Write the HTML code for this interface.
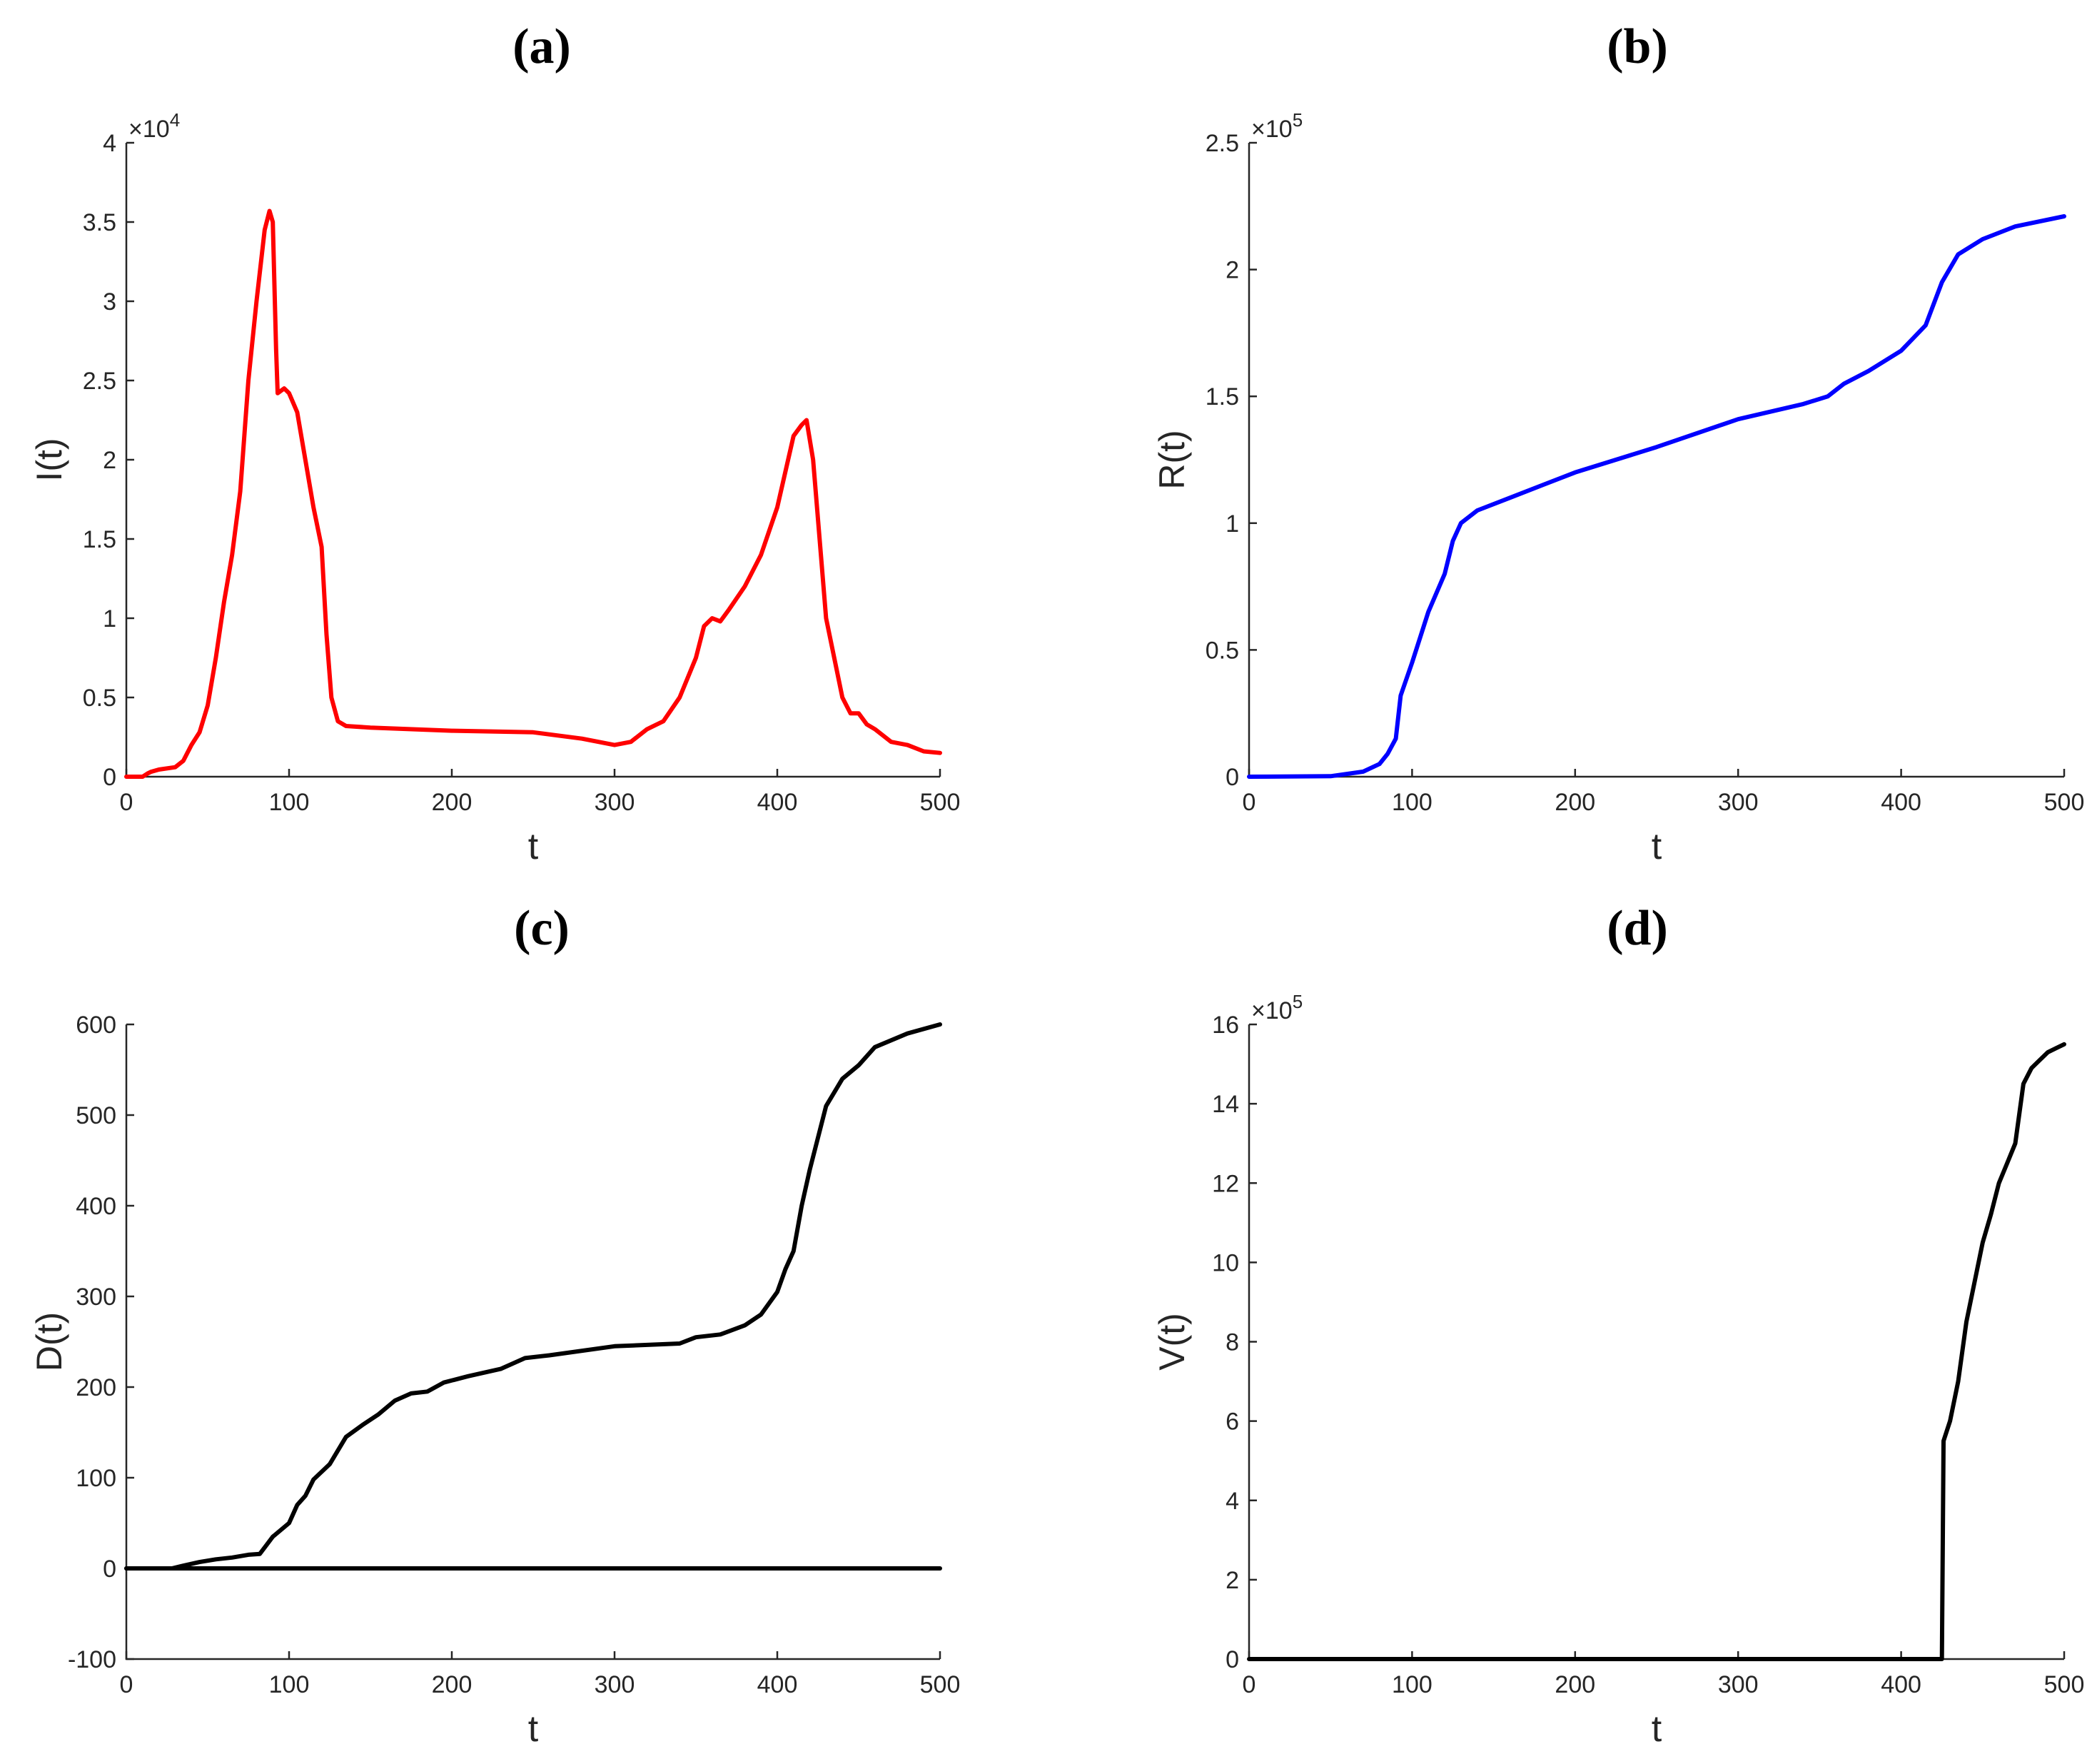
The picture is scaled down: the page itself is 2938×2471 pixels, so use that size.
<!DOCTYPE html>
<html><head><meta charset="utf-8"><style>
html,body{margin:0;padding:0;background:#fff;}
svg{display:block;font-family:"Liberation Sans",sans-serif;}
</style></head><body>
<svg id="fig" width="2938" height="2471" viewBox="0 0 2938 2471" xmlns="http://www.w3.org/2000/svg"></svg>
<script>
// Panel (a) I(t), units of 1e4
const iT=[0,10,13,15,20,30,35,40,45,50,55,60,65,70,75,80,85,88,90,92,93,97,100,105,110,115,120,123,126,130,135,150,200,250,280,300,310,320,330,340,350,355,360,365,370,380,390,400,410,415,418,422,430,440,445,450,455,460,470,480,490,500];
const iV=[0,0,0.02,0.03,0.045,0.06,0.1,0.2,0.28,0.45,0.75,1.1,1.4,1.8,2.5,3.0,3.45,3.57,3.5,2.7,2.42,2.45,2.42,2.3,2.0,1.7,1.45,0.9,0.5,0.35,0.32,0.31,0.29,0.28,0.24,0.2,0.22,0.3,0.35,0.5,0.75,0.95,1.0,0.98,1.05,1.2,1.4,1.7,2.15,2.22,2.25,2.0,1.0,0.5,0.4,0.4,0.33,0.3,0.22,0.2,0.16,0.15];
// Panel (b) R(t), units of 1e5
const rT=[0,50,70,80,85,90,93,100,110,120,125,130,140,160,180,200,250,300,340,355,365,380,400,415,425,435,450,470,500];
const rV=[0,0.002,0.02,0.05,0.09,0.15,0.32,0.45,0.65,0.8,0.93,1.0,1.05,1.1,1.15,1.2,1.3,1.41,1.47,1.5,1.55,1.6,1.68,1.78,1.95,2.06,2.12,2.17,2.21];
// Panel (c) D(t)
const dT=[0,28,35,45,55,65,75,82,90,100,105,110,115,125,135,145,155,165,175,185,195,210,230,245,260,300,340,350,365,380,390,400,405,410,415,420,430,440,450,460,480,500];
const dV=[0,0,3,7,10,12,15,16,35,50,70,80,98,115,145,158,170,185,193,195,205,212,220,232,235,245,248,255,258,268,280,305,330,350,400,440,510,540,555,575,590,600];
const dZeroT=[0,500];
const dZeroV=[0,0];
// Panel (d) V(t), units of 1e5
const vT=[0,425,426,430,435,440,445,450,455,460,465,470,475,480,485,490,495,500];
const vV=[0,0,5.5,6,7,8.5,9.5,10.5,11.2,12,12.5,13,14.5,14.9,15.1,15.3,15.4,15.5];

const xTicks=[0,100,200,300,400,500];
const aTicks=[0,0.5,1,1.5,2,2.5,3,3.5,4], aLabels=["0","0.5","1","1.5","2","2.5","3","3.5","4"];
const bTicks=[0,0.5,1,1.5,2,2.5], bLabels=["0","0.5","1","1.5","2","2.5"];
const cTicks=[-100,0,100,200,300,400,500,600], cLabels=["-100","0","100","200","300","400","500","600"];
const dTicks=[0,2,4,6,8,10,12,14,16], dLabels=["0","2","4","6","8","10","12","14","16"];

const NS="http://www.w3.org/2000/svg";
const svg=document.getElementById('fig');
function mk(tag,attrs,parent){const e=document.createElementNS(NS,tag);for(const k in attrs)e.setAttribute(k,attrs[k]);(parent||svg).appendChild(e);return e;}

function panel(p){
  const g=mk('g',{});
  
  
  const sx=v=>p.x0+(v-0)/(500-0)*(p.x1-p.x0);
  const sy=v=>p.y1-(v-p.ymin)/(p.ymax-p.ymin)*(p.y1-p.y0);
  const ax=mk('path',{d:`M${p.x0},${p.y0} L${p.x0},${p.y1} L${p.x1},${p.y1}`,fill:'none',stroke:'#262626','stroke-width':2.5},g);
  
  
  xTicks.forEach(t=>{
    mk('line',{x1:sx(t),x2:sx(t),y1:p.y1,y2:p.y1-11,stroke:'#262626','stroke-width':2.5},g);
    const tx=mk('text',{x:sx(t),y:p.y1+47,'font-size':34,fill:'#262626','text-anchor':'middle'},g);
    tx.textContent=t;
    
    
  });
  p.ticks.forEach((t,i)=>{
    mk('line',{x1:p.x0,x2:p.x0+11,y1:sy(t),y2:sy(t),stroke:'#262626','stroke-width':2.5},g);
    const tx=mk('text',{x:p.x0-14,y:sy(t)+12,'font-size':34,fill:'#262626','text-anchor':'end'},g);
    tx.textContent=p.labels[i];
    
    
  });
  if(p.exp){
    const tx=mk('text',{x:p.x0+3,y:p.y0-8,'font-size':34,fill:'#262626'},g);
    tx.innerHTML='×10<tspan dy="-15" font-size="26">'+p.exp+'</tspan>';
    
    
  }
  const xl=mk('text',{x:(p.x0+p.x1)/2,y:p.y1+115,'font-size':52,fill:'#262626','text-anchor':'middle'},g);
  xl.textContent='t';
  
  
  const cy=(p.y0+p.y1)/2;
  const yl=mk('text',{x:p.x0-108,y:cy,'font-size':50,fill:'#262626','text-anchor':'middle',transform:`rotate(-90 ${p.x0-108} ${cy})`},g);
  yl.setAttribute('dy','17');
  yl.textContent=p.ylab;
  
  
  const tt=mk('text',{x:p.tx,y:p.y0-112,'font-size':70,'font-weight':'bold','font-family':'"Liberation Serif",serif','text-anchor':'middle',fill:'#000'},g);
  tt.textContent=p.title;
  
  
  p.series.forEach(s=>{
    const d=s.t.map((t,i)=>(i?'L':'M')+sx(t).toFixed(1)+','+sy(s.v[i]).toFixed(1)).join(' ');
    const pl=mk('path',{d:d,fill:'none',stroke:s.c,'stroke-width':6,'stroke-linejoin':'round','stroke-linecap':'round'},g);
    
    
  });
}
panel({name:'panel-a',tx:759,x0:177,x1:1317,y0:200,y1:1088,ymin:0,ymax:4,ticks:aTicks,labels:aLabels,exp:'4',ylab:'I(t)',title:'(a)',series:[{t:iT,v:iV,c:'#ff0000',name:'infected-line'}]});
panel({name:'panel-b',tx:2294,x0:1750,x1:2892,y0:200,y1:1088,ymin:0,ymax:2.5,ticks:bTicks,labels:bLabels,exp:'5',ylab:'R(t)',title:'(b)',series:[{t:rT,v:rV,c:'#0000ff',name:'recovered-line'}]});
panel({name:'panel-c',tx:759,x0:177,x1:1317,y0:1435,y1:2324,ymin:-100,ymax:600,ticks:cTicks,labels:cLabels,exp:null,ylab:'D(t)',title:'(c)',series:[{t:dZeroT,v:dZeroV,c:'#000',name:'zero-line'},{t:dT,v:dV,c:'#000',name:'deaths-line'}]});
panel({name:'panel-d',tx:2294,x0:1750,x1:2892,y0:1435,y1:2324,ymin:0,ymax:16,ticks:dTicks,labels:dLabels,exp:'5',ylab:'V(t)',title:'(d)',series:[{t:vT,v:vV,c:'#000',name:'vaccinated-line'}]});
</script>
</body></html>
